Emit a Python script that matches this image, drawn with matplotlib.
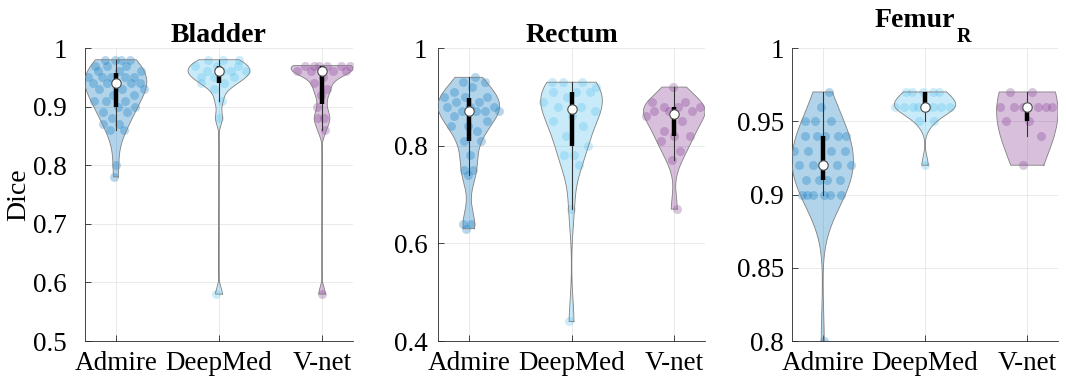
import numpy as np
import matplotlib
matplotlib.use("Agg")
from matplotlib import pyplot as plt

plt.rcParams['font.family'] = ['Liberation Serif', 'DejaVu Serif']

methods = ["Admire", "DeepMed", "V-net"]
colors = [(0.0, 0.447, 0.741), (0.302, 0.745, 0.933), (0.494, 0.184, 0.556)]

titles = ["Bladder", "Rectum", "Femur"]
subs = [None, None, "R"]

# Dice scores (rounded to 0.01)
bladder_admire = [0.98, 0.98, 0.98, 0.98, 0.97, 0.97, 0.97, 0.96, 0.96, 0.96,
                  0.95, 0.95, 0.95, 0.95, 0.95, 0.94, 0.94, 0.94, 0.94, 0.94,
                  0.93, 0.93, 0.93, 0.92, 0.92, 0.91, 0.91, 0.91, 0.90, 0.90,
                  0.89, 0.89, 0.88, 0.87, 0.87, 0.86, 0.86, 0.80, 0.78]
bladder_deepmed = [0.98, 0.98, 0.98, 0.97, 0.97, 0.97, 0.96, 0.96, 0.96, 0.96,
                   0.95, 0.95, 0.95, 0.94, 0.94, 0.93, 0.91, 0.88, 0.58]
bladder_vnet = [0.97, 0.97, 0.97, 0.97, 0.97, 0.97, 0.96, 0.96, 0.96, 0.96,
                0.95, 0.94, 0.93, 0.92, 0.90, 0.88, 0.88, 0.86, 0.58]

rectum_admire = [0.94, 0.93, 0.93, 0.92, 0.91, 0.90, 0.90, 0.90, 0.89, 0.89,
                 0.88, 0.88, 0.88, 0.87, 0.87, 0.87, 0.87, 0.86, 0.85, 0.84,
                 0.84, 0.83, 0.81, 0.81, 0.78, 0.75, 0.75, 0.74, 0.64, 0.64, 0.63]
rectum_deepmed = [0.93, 0.93, 0.93, 0.92, 0.91, 0.91, 0.91, 0.90, 0.89, 0.88,
                  0.88, 0.87, 0.86, 0.85, 0.84, 0.82, 0.80, 0.78, 0.78, 0.76,
                  0.67, 0.44]
rectum_vnet = [0.92, 0.89, 0.89, 0.88, 0.88, 0.88, 0.87, 0.87, 0.87, 0.86,
               0.85, 0.83, 0.82, 0.82, 0.81, 0.79, 0.77, 0.67]

femur_admire = [0.97, 0.96, 0.95, 0.95, 0.95, 0.94, 0.94, 0.94, 0.94, 0.94,
                0.93, 0.93, 0.93, 0.93, 0.92, 0.92, 0.92, 0.92, 0.92, 0.91,
                0.91, 0.91, 0.91, 0.90, 0.90, 0.90, 0.90, 0.90, 0.90, 0.80]
femur_deepmed = [0.97, 0.97, 0.97, 0.97, 0.97, 0.96, 0.96, 0.96, 0.96, 0.96,
                 0.96, 0.96, 0.96, 0.95, 0.95, 0.92]
femur_vnet = [0.97, 0.97, 0.96, 0.96, 0.96, 0.96, 0.96, 0.96, 0.95, 0.95,
              0.94, 0.92]

panels = [
    [bladder_admire, bladder_deepmed, bladder_vnet],
    [rectum_admire, rectum_deepmed, rectum_vnet],
    [femur_admire, femur_deepmed, femur_vnet],
]
yticks = [[0.5, 0.6, 0.7, 0.8, 0.9, 1.0], [0.4, 0.6, 0.8, 1.0],
          [0.8, 0.85, 0.9, 0.95, 1.0]]
yticklabels = [["0.5", "0.6", "0.7", "0.8", "0.9", "1"], ["0.4", "0.6", "0.8", "1"],
               ["0.8", "0.85", "0.9", "0.95", "1"]]
ylims = [(0.5, 1.0), (0.4, 1.0), (0.8, 1.0)]

WIDTH = 0.3
BW_SCALE = 1.3
# kernel width fixed by hand where the rule of thumb collapses
bw_override = {(2, 2): 0.03}


def kde(data, grid, bw=None):
    # rule of thumb as in matlab ksdensity
    n = len(data)
    if bw is None:
        sig = np.median(np.abs(data - np.median(data))) / 0.6745
        if sig <= 0:
            sig = data.max() - data.min()
        bw = BW_SCALE * sig * (4.0 / (3.0 * n)) ** 0.2
    z = (grid[:, None] - data[None, :]) / bw
    return np.exp(-0.5 * z ** 2).sum(axis=1) / (n * bw * np.sqrt(2 * np.pi))


def violin(ax, pos, values, color, k, bw=None):
    data = np.asarray(values, dtype=float)
    grid = np.linspace(data.min(), data.max(), 200)
    dens = kde(data, grid, bw)
    half = dens / dens.max() * WIDTH

    # deterministic spread inside the violin
    seq = np.array([((i + 1) * 0.6180339887 + 0.37 * k) % 1.0 for i in range(len(data))])
    jit = (2 * seq - 1) * np.interp(data, grid, half)
    ax.scatter(pos + jit, data, s=42, color=color, alpha=0.28, lw=0, zorder=2)

    ax.fill(np.r_[pos + half, pos - half[::-1]], np.r_[grid, grid[::-1]],
            facecolor=color, alpha=0.3, edgecolor='none', zorder=3)
    ax.plot(np.r_[pos + half, pos - half[::-1], pos + half[0]],
            np.r_[grid, grid[::-1], grid[0]], color=(0.5, 0.5, 0.5), lw=0.6, zorder=4)

    q1, med, q3 = np.quantile(data, [0.25, 0.5, 0.75], method='hazen')
    iqr = q3 - q1
    lo = data[data > q1 - 1.5 * iqr].min()
    hi = data[data < q3 + 1.5 * iqr].max()
    ax.plot([pos, pos], [lo, hi], color=(0.2, 0.2, 0.2), lw=0.8, zorder=5)
    ax.plot([pos, pos], [q1, q3], color='black', lw=3.2, solid_capstyle='butt', zorder=6)
    ax.plot([pos], [med], 'o', ms=6.8, mfc='white', mec=(0.3, 0.3, 0.3), mew=0.8, zorder=7)


fig = plt.figure(figsize=(10.66, 3.82), dpi=100)
lefts = [0.0797, 0.4109, 0.7430]
widths = [0.2514, 0.2505, 0.2495]
ypads = [13, 7.6, 5.8]

for p in range(3):
    ax = fig.add_axes([lefts[p], 0.1073, widths[p], 0.767])
    for i, vals in enumerate(panels[p]):
        violin(ax, i + 1, vals, colors[i], i + 3 * p, bw_override.get((p, i)))
    ax.set_xlim(0.7, 3.3)
    ax.set_ylim(*ylims[p])
    ax.set_xticks([1, 2, 3])
    ax.set_xticklabels(methods)
    ax.set_yticks(yticks[p])
    ax.set_yticklabels(yticklabels[p])
    ax.grid(True, color=(0.9, 0.9, 0.9), lw=0.6)
    ax.set_axisbelow(True)
    for s in ['top', 'right']:
        ax.spines[s].set_visible(False)
    for s in ['left', 'bottom']:
        ax.spines[s].set_color((0.15, 0.15, 0.15))
        ax.spines[s].set_linewidth(0.6)
    ax.tick_params(direction='in', length=4, width=0.6, color=(0.15, 0.15, 0.15),
                   labelsize=19.5)
    ax.tick_params(axis='y', pad=ypads[p])
    ax.tick_params(axis='x', pad=7)

    # titles: subscript version sits higher, like the matlab one
    if subs[p] is None:
        ax.text(0.5, 1.0205, titles[p], transform=ax.transAxes, ha='center',
                va='baseline', fontsize=20, fontweight='bold')
    else:
        ax.text(0.613, 1.0717, titles[p], transform=ax.transAxes, ha='right',
                va='baseline', fontsize=20, fontweight='bold')
        ax.text(0.618, 1.0205, subs[p], transform=ax.transAxes, ha='left',
                va='baseline', fontsize=14.5, fontweight='bold')

    if p == 0:
        ax.set_ylabel("Dice", fontsize=20)
        ax.yaxis.set_label_coords(-0.2, 0.5)

fig.savefig("out.png", dpi=100)
